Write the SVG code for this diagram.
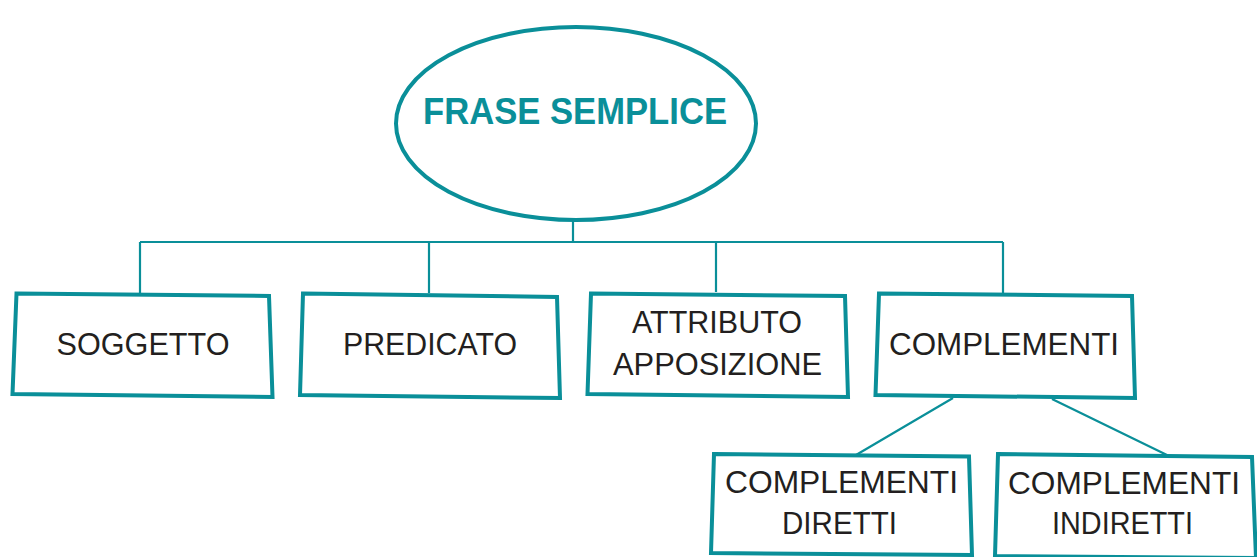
<svg xmlns="http://www.w3.org/2000/svg" width="1257" height="557" viewBox="0 0 1257 557">
<style>
.box{fill:#fff;stroke:#0a8f99;stroke-width:4;stroke-linejoin:miter}
.con{fill:none;stroke:#0a8f99;stroke-width:2.2}
.lbl{font-family:"Liberation Sans",Arial,sans-serif;font-size:32px;fill:#231f20;text-anchor:middle}
.title{font-family:"Liberation Sans",Arial,sans-serif;font-size:36px;font-weight:bold;fill:#0a8f99;text-anchor:middle}
</style>
<rect width="1257" height="557" fill="#fff"/>
<g id="connectors">
<path class="con" d="M573 220V242M140 242H1003M140 242V293M429 242V293M716 242V292M1003 242V293"/>
<path class="con" d="M953 398L856 455M1052 399L1169 456"/>
</g>
<g id="frase-semplice">
<ellipse cx="576" cy="123.5" rx="180" ry="96.5" fill="#fff" stroke="#0a8f99" stroke-width="4"/>
<text class="title" x="575" y="124" textLength="304" lengthAdjust="spacingAndGlyphs">FRASE SEMPLICE</text>
</g>
<g id="soggetto">
<polygon class="box" points="16.5,293.5 269,296 272.5,397 12.5,394"/>
<text class="lbl" x="143" y="355" textLength="173" lengthAdjust="spacingAndGlyphs">SOGGETTO</text>
</g>
<g id="predicato">
<polygon class="box" points="303,293.5 557,297 560,398 300,395"/>
<text class="lbl" x="430" y="355" textLength="174" lengthAdjust="spacingAndGlyphs">PREDICATO</text>
</g>
<g id="attributo-apposizione">
<polygon class="box" points="591,293.5 845,296 848,397 587.5,394"/>
<text class="lbl" x="717" y="333" textLength="170" lengthAdjust="spacingAndGlyphs">ATTRIBUTO</text>
<text class="lbl" x="717.5" y="375" textLength="209" lengthAdjust="spacingAndGlyphs">APPOSIZIONE</text>
</g>
<g id="complementi">
<polygon class="box" points="879,293.5 1132,296 1135,398 875.5,395"/>
<text class="lbl" x="1004" y="355" textLength="230" lengthAdjust="spacingAndGlyphs">COMPLEMENTI</text>
</g>
<g id="complementi-diretti">
<polygon class="box" points="714,454 969,456.5 972,555 711,553"/>
<text class="lbl" x="841.5" y="493" textLength="233" lengthAdjust="spacingAndGlyphs">COMPLEMENTI</text>
<text class="lbl" x="839.5" y="534" textLength="115" lengthAdjust="spacingAndGlyphs">DIRETTI</text>
</g>
<g id="complementi-indiretti">
<polygon class="box" points="998,454 1252,457 1256,558 995,556"/>
<text class="lbl" x="1124" y="494" textLength="232" lengthAdjust="spacingAndGlyphs">COMPLEMENTI</text>
<text class="lbl" x="1122.5" y="534" textLength="141" lengthAdjust="spacingAndGlyphs">INDIRETTI</text>
</g>
</svg>
